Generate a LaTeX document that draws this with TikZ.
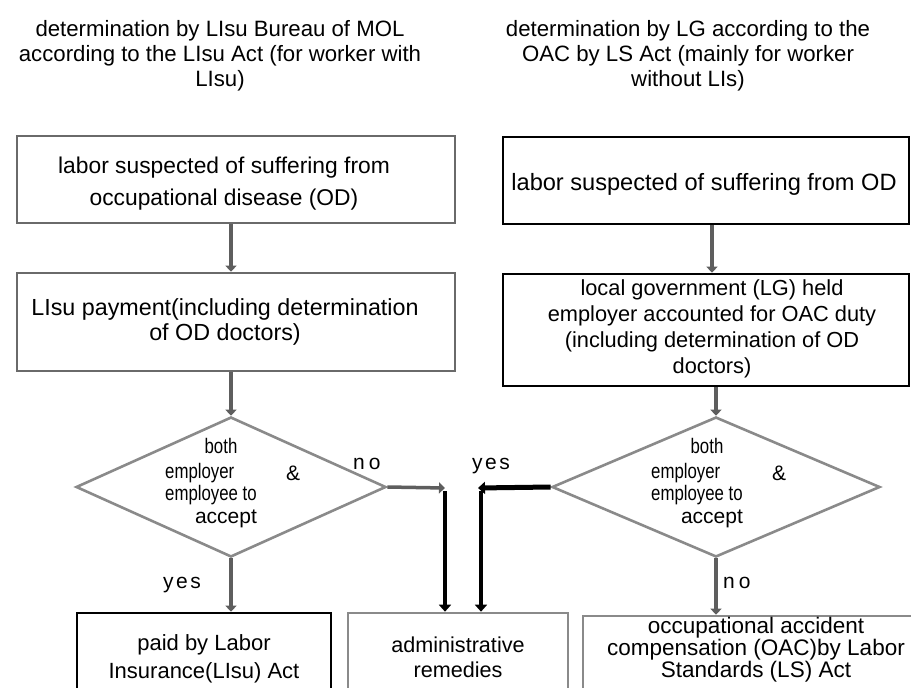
\documentclass[tikz,border=0pt]{standalone}
\usepackage{graphicx}
\usepackage{fontspec}
\setmainfont{Liberation Sans}
\usetikzlibrary{arrows.meta,shapes.geometric}

\definecolor{framegray}{HTML}{6A6A6A}
\definecolor{lightframe}{HTML}{8A8A8A}
\definecolor{arrowgray}{HTML}{5E5E5E}

% horizontally condensed text for the decision boxes
\newcommand\narrowtext[1]{\scalebox{0.8}[1]{#1}}

\begin{document}
\begin{tikzpicture}[x=1pt,y=-1pt,
  box/.style={draw, rectangle, inner sep=0pt, line width=2.6pt},
  graybox/.style={box, draw=framegray},
  lightbox/.style={box, draw=lightframe},
  blackbox/.style={box, draw=black},
  decision/.style={draw=lightframe, diamond, inner sep=0pt, line width=2.6pt},
  txt/.style={align=center, inner sep=0pt, anchor=base},
  lbl/.style={inner sep=0pt, anchor=base west, font=\fontsize{21}{24}\selectfont},
  flow/.style={draw=arrowgray, line width=3.5pt, -{Triangle[length=6pt,width=11pt]}},
  flowblack/.style={draw=black, line width=4.5pt, -{Triangle[length=7pt,width=12pt]}},
]
\useasboundingbox (0,0) rectangle (911,688);
\clip (0,0) rectangle (911,688);

% column headings (nodes sit on the baseline of their last line)
\node[txt, font=\fontsize{22.2}{25}\selectfont] (h1) at (220,86)
  {determination by LIsu Bureau of MOL\\according to the LIsu Act (for worker with\\LIsu)};
\node[txt, font=\fontsize{22.2}{25}\selectfont] (h2) at (688,86)
  {determination by LG according to the\\OAC by LS Act (mainly for worker\\without LIs)};

% left column
\node[graybox, minimum width=438pt, minimum height=87pt] (l1) at (236,179.5) {};
\node[txt, font=\fontsize{22.8}{32}\selectfont] (l1t) at (224,205)
  {labor suspected of suffering from\\occupational disease (OD)};
\node[graybox, minimum width=438pt, minimum height=98pt] (l2) at (236,322) {};
\node[txt, font=\fontsize{23.3}{25}\selectfont] (l2t) at (225,340)
  {LIsu payment(including determination\\of OD doctors)};
\node[decision, minimum width=310pt, minimum height=140pt] (d1) at (231,487) {};

% right column
\node[blackbox, minimum width=406pt, minimum height=87pt] (r1) at (706,180.5) {};
\node[txt, font=\fontsize{23.6}{28}\selectfont] (r1t) at (704,190)
  {labor suspected of suffering from OD};
\node[blackbox, minimum width=406pt, minimum height=112pt] (r2) at (706,330) {};
\node[txt, font=\fontsize{21.8}{26}\selectfont] (r2t) at (712,373)
  {local government (LG) held\\employer accounted for OAC duty\\(including determination of OD\\doctors)};
\node[decision, minimum width=328pt, minimum height=140pt] (d2) at (716,487) {};

% decision texts
\begin{scope}[every node/.style={inner sep=0pt, font=\fontsize{21}{24}\selectfont}]
  \node[anchor=base] (d1a) at (221,453) {\narrowtext{both}};
  \node[anchor=base west] (d1b) at (165,478) {\narrowtext{employer}};
  \node[anchor=base west] (d1c) at (286,480) {\&};
  \node[anchor=base west] (d1d) at (165,500) {\narrowtext{employee to}};
  \node[anchor=base] (d1e) at (226,523) {accept};
  \node[anchor=base] (d2a) at (707,453) {\narrowtext{both}};
  \node[anchor=base west] (d2b) at (651,478) {\narrowtext{employer}};
  \node[anchor=base west] (d2c) at (772,480) {\&};
  \node[anchor=base west] (d2d) at (651,500) {\narrowtext{employee to}};
  \node[anchor=base] (d2e) at (712,523) {accept};
\end{scope}

% outcome boxes
\node[blackbox, minimum width=254pt, minimum height=97pt] (b1) at (204,661.5) {};
\node[txt, font=\fontsize{22}{28}\selectfont] (b1t) at (204,678)
  {paid by Labor\\Insurance(LIsu) Act};
\node[lightbox, minimum width=220pt, minimum height=97pt] (b2) at (458,661.5) {};
\node[txt, font=\fontsize{21.6}{25}\selectfont] (b2t) at (458,677)
  {administrative\\remedies};
\node[lightbox, minimum width=357pt, minimum height=97pt] (b3) at (761.5,664.5) {};
\node[txt, font=\fontsize{22.5}{22}\selectfont] (b3t) at (756,677)
  {occupational accident\\compensation (OAC)by Labor\\Standards (LS) Act};

% connector corners
\coordinate (rc) at (712,0);
\coordinate (noend) at (445,488);
\coordinate (nodown) at (445,491);
\coordinate (yesend) at (478,488);
\coordinate (yesdown) at (481,491);

% connectors
\draw[flow] (l1.south -| d1.north) -- (l2.north -| d1.north);
\draw[flow] (l2.south -| d1.north) -- (d1.north);
\draw[flow] (d1.south) -- (b1.north -| d1.south);
\draw[flow] (r1.south -| rc) -- (r2.north -| rc);
\draw[flow] (r2.south -| d2.north) -- (d2.north);
\draw[flow] (d2.south) -- (b3.north -| d2.south);
\draw[flow] (d1.east) -- (noend);
\draw[flowblack] (nodown) -- (b2.north -| nodown);
\draw[flowblack, line width=5pt] (d2.west) -- (yesend);
\draw[flowblack] (yesdown) -- (b2.north -| yesdown);

% branch labels
\node[lbl] (yes1) at (163,588) {y\hspace{2.5pt}e\hspace{2.5pt}s};
\node[lbl] (no1) at (353,469) {n\hspace{4pt}o};
\node[lbl] (yes2) at (472,469) {y\hspace{2.5pt}e\hspace{2.5pt}s};
\node[lbl] (no2) at (723,588) {n\hspace{4pt}o};
\end{tikzpicture}
\end{document}
